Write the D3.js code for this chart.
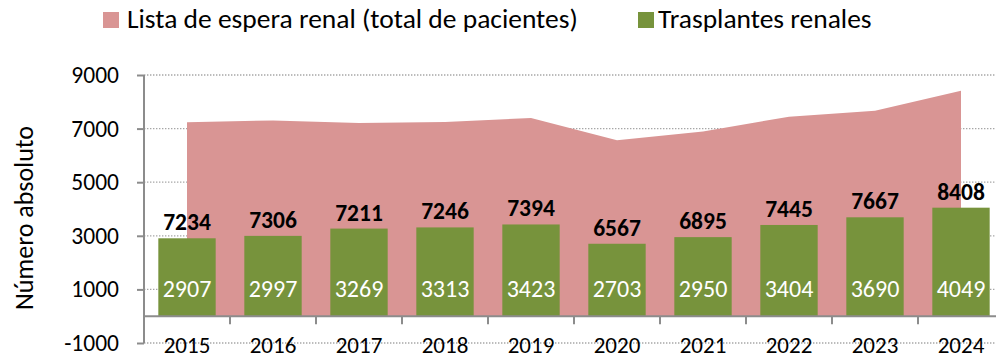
<!DOCTYPE html>
<html>
<head>
<meta charset="utf-8">
<script src="https://cdn.jsdelivr.net/npm/d3@7"></script>
<style>
  html, body { margin: 0; padding: 0; background: #fff; }
  svg { display: block; font-family: Carlito, Lato, "Open Sans", sans-serif; }
</style>
</head>
<body>
<svg id="chart" width="996" height="360"></svg>
<script>
// Kidney waiting list vs. kidney transplants, Spain 2015–2024
const years = ["2015", "2016", "2017", "2018", "2019", "2020", "2021", "2022", "2023", "2024"];
const waitingList = [7234, 7306, 7211, 7246, 7394, 6567, 6895, 7445, 7667, 8408];
const transplants = [2907, 2997, 3269, 3313, 3423, 2703, 2950, 3404, 3690, 4049];
const yTicks = [-1000, 1000, 3000, 5000, 7000, 9000];
const seriesNames = ["Lista de espera renal (total de pacientes)", "Trasplantes renales"];

const pink = "#D99594";
const green = "#77933C";
const axisGrey = "#8c8c8c";

const svg = d3.select("#chart");
const plot = { left: 144, right: 1004, top: 75, bottom: 343 };

const x = d3.scaleBand().domain(years).range([plot.left, plot.right]).paddingInner(0.333).paddingOuter(0.1665);
const xBand = d3.scaleBand().domain(years).range([plot.left, plot.right]);
const y = d3.scaleLinear().domain([-1000, 9000]).range([plot.bottom, plot.top]);
const cx = d => xBand(d) + xBand.bandwidth() / 2;

// dotted horizontal gridlines
svg.append("g").selectAll("line").data(yTicks).join("line")
  .attr("x1", plot.left).attr("x2", 996)
  .attr("y1", d => y(d)).attr("y2", d => y(d))
  .attr("stroke", "#a6a6a6").attr("stroke-width", 1.3)
  .attr("stroke-dasharray", "1.4,1.6");

// waiting-list area
const area = d3.area()
  .x((d, i) => cx(years[i]))
  .y0(y(0))
  .y1(d => y(d));
svg.append("path").datum(waitingList)
  .attr("d", area).attr("fill", pink);

// transplant bars
svg.append("g").selectAll("rect").data(transplants).join("rect")
  .attr("x", (d, i) => x(years[i]))
  .attr("width", x.bandwidth())
  .attr("y", d => y(d))
  .attr("height", d => y(0) - y(d))
  .attr("fill", green);

// y axis
const yAxis = d3.axisLeft(y).tickValues(yTicks).tickSize(7).tickPadding(18).tickFormat(d => String(d));
const gy = svg.append("g").attr("transform", `translate(${plot.left},0)`).call(yAxis);
gy.select(".domain").attr("stroke", axisGrey).attr("stroke-width", 2).attr("d", `M0,${plot.top}V${plot.bottom}`);
gy.selectAll(".tick line").attr("stroke", axisGrey).attr("stroke-width", 2);
gy.selectAll(".tick text").attr("font-size", 23.5).attr("fill", "#000").attr("font-family", "Carlito, Lato, sans-serif");

// x axis on the zero line, ticks between categories
const zeroY = y(0);
const gx = svg.append("g");
gx.append("line").attr("x1", plot.left).attr("x2", 996).attr("y1", zeroY).attr("y2", zeroY)
  .attr("stroke", axisGrey).attr("stroke-width", 2);
gx.selectAll(".xt").data(years.slice(1)).join("line").attr("class", "xt")
  .attr("x1", d => xBand(d)).attr("x2", d => xBand(d))
  .attr("y1", zeroY).attr("y2", zeroY + 8)
  .attr("stroke", axisGrey).attr("stroke-width", 2);
gx.selectAll("text").data(years).join("text")
  .attr("x", d => cx(d)).attr("y", 353)
  .attr("text-anchor", "middle").attr("font-size", 23).attr("fill", "#000")
  .text(d => d);

// waiting-list values, placed just above each bar
svg.append("g").selectAll("text").data(waitingList).join("text")
  .attr("x", (d, i) => cx(years[i]))
  .attr("y", (d, i) => y(transplants[i]) - 8)
  .attr("text-anchor", "middle").attr("font-size", 23.5).attr("font-weight", "bold").attr("fill", "#000")
  .text(d => d);

// transplant values near the base of each bar
svg.append("g").selectAll("text").data(transplants).join("text")
  .attr("x", (d, i) => cx(years[i]))
  .attr("y", 297)
  .attr("text-anchor", "middle").attr("font-size", 24).attr("fill", "#fff")
  .text(d => d);

// y-axis title
svg.append("text")
  .attr("transform", `translate(33,218) rotate(-90)`)
  .attr("text-anchor", "middle").attr("font-size", 26).attr("fill", "#000")
  .text("Número absoluto");

// legend
const legend = [
  { name: seriesNames[0], color: pink, sx: 103, tx: 127 },
  { name: seriesNames[1], color: green, sx: 638, tx: 658 }
];
const lg = svg.append("g").selectAll("g").data(legend).join("g");
lg.append("rect").attr("x", d => d.sx).attr("y", 12).attr("width", 16).attr("height", 16).attr("fill", d => d.color);
lg.append("text").attr("x", d => d.tx).attr("y", 28).attr("font-size", 27.5).attr("fill", "#000").text(d => d.name);
</script>
</body>
</html>
